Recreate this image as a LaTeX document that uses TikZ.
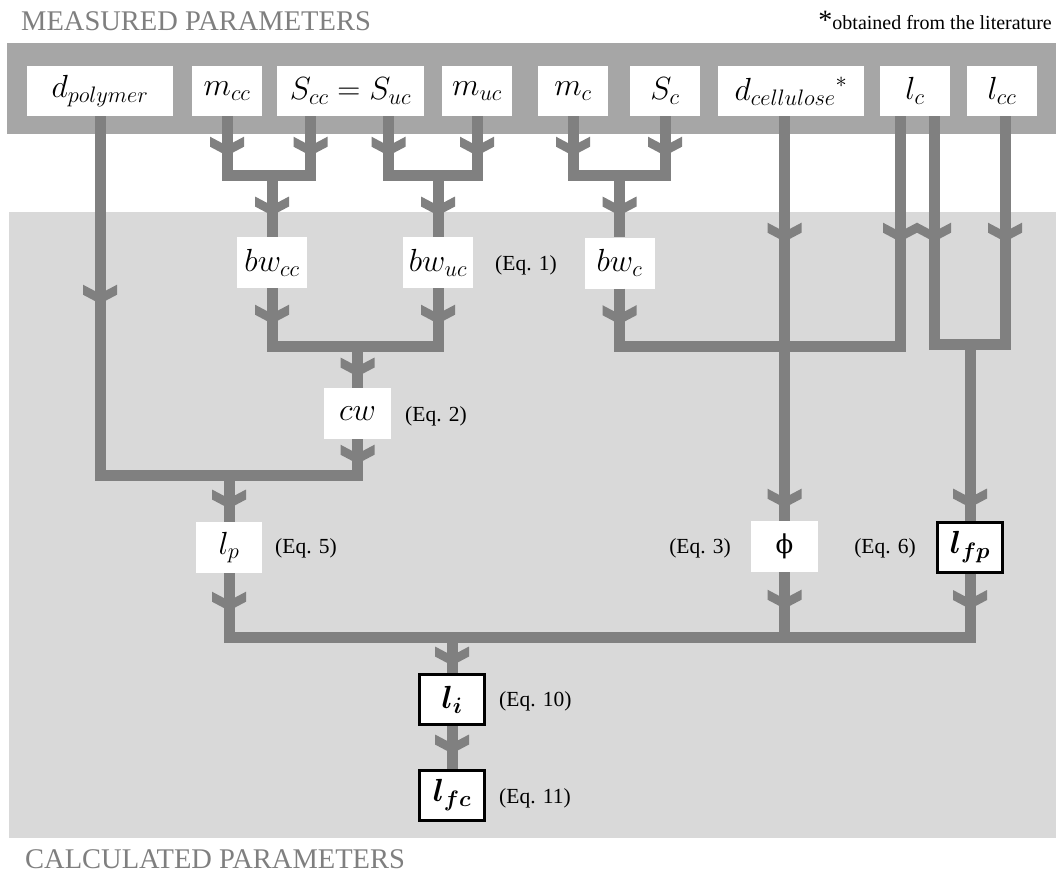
\RequirePackage{fix-cm}
\documentclass[tikz,border=0pt]{standalone}
\usepackage{amsmath}
\usepackage{fontspec}
\setmainfont{Liberation Serif}
\newfontfamily\phifont{DejaVu Serif}
\usepackage{tikz}
\usetikzlibrary{decorations.markings}
\definecolor{flowgray}{HTML}{808080}
\definecolor{bandgray}{HTML}{A6A6A6}
\definecolor{areagray}{HTML}{D9D9D9}
\definecolor{headgray}{HTML}{7F7F7F}
\tikzstyle{param}=[fill=white,inner sep=0pt,minimum width=70pt,minimum height=50pt,font=\fontsize{32}{38}\selectfont]
\tikzstyle{result}=[param,draw=black,line width=3pt,minimum width=65pt,minimum height=50pt]
\tikzstyle{eqlabel}=[inner sep=0pt,font=\fontsize{21.5}{25}\selectfont]
\tikzstyle{header}=[inner sep=0pt,text=headgray,font=\fontsize{28.5}{34}\selectfont]
\tikzstyle{flow}=[draw=flowgray,line width=11pt]
\tikzset{chev/.style={postaction={decorate,decoration={markings,mark=at position #1 with {\fill[flowgray] (-9.5,-17) -- (-0.5,0) -- (-9.5,17) -- (0.5,17) -- (9.5,0) -- (0.5,-17) -- cycle;}}}}}

\begin{document}
\begin{tikzpicture}[x=1pt,y=-1pt]
	\useasboundingbox (0,0) rectangle (1056,873);
	\fill[areagray] (9,212) rectangle (1056,838);
	\fill[bandgray] (7,43) rectangle (1056,134);

	\node [header, anchor=base west] (meas) at (21,30) {MEASURED PARAMETERS};
	\node [anchor=base east, inner sep=0pt] (lit) at (1052,29) {{\fontsize{28}{28}\selectfont *}{\fontsize{20}{24}\selectfont obtained from the literature}};
	\node [header, anchor=base west] (calc) at (25,868) {CALCULATED PARAMETERS};

	% measured
	\node [param, minimum width=146pt] (dpol) at (100,91) {$d_{polymer}$};
	\node [param] (mcc) at (227,91) {$m_{cc}$};
	\node [param, minimum width=147pt] (scc) at (350.5,91) {$S_{cc}=S_{uc}$};
	\node [param] (muc) at (477,91) {$m_{uc}$};
	\node [param] (mc) at (573,91) {$m_{c}$};
	\node [param] (sc) at (665,91) {$S_{c}$};
	\node [param, minimum width=146pt] (dcel) at (791,91) {${d_{cellulose}}^{*}$};
	\node [param] (lc) at (915,91) {$l_{c}$};
	\node [param] (lcc) at (1002,91) {$l_{cc}$};

	% calculated
	\node [param, minimum height=51pt] (bwcc) at (272,262.5) {$bw_{cc}$};
	\node [param, minimum height=51pt] (bwuc) at (438,262.5) {$bw_{uc}$};
	\node [param, minimum height=51pt] (bwc) at (619.5,263) {$bw_{c}$};
	\node [param, minimum width=67pt, minimum height=51pt] (cw) at (357.5,413.5) {$cw$};
	\node [param, minimum width=66pt, minimum height=51pt] (lp) at (229,547.5) {$l_{p}$};
	\node [param, minimum width=67pt, minimum height=51pt, font={\fontsize{26}{30}\phifont}] (phi) at (784.5,546.5) {ϕ};
	\node [result] (lfp) at (970,547) {$\boldsymbol{l_{fp}}$};
	\node [result] (li) at (452,699.5) {$\boldsymbol{l_{i}}$};
	\node [result] (lfc) at (452,795) {$\boldsymbol{l_{fc}}$};

	\node [eqlabel, anchor=west] (eq1) at (495,265) {(Eq. 1)};
	\node [eqlabel, anchor=west] (eq2) at (405,416) {(Eq. 2)};
	\node [eqlabel, anchor=west] (eq5) at (275,548) {(Eq. 5)};
	\node [eqlabel, anchor=east] (eq3) at (731,548) {(Eq. 3)};
	\node [eqlabel, anchor=east] (eq6) at (916,548) {(Eq. 6)};
	\node [eqlabel, anchor=west] (eq10) at (499,701) {(Eq. 10)};
	\node [eqlabel, anchor=west] (eq11) at (499,798) {(Eq. 11)};

	\coordinate (jcc) at (272,175);
	\coordinate (juc) at (438,175);
	\coordinate (jc) at (619.5,175);
	\coordinate (jw) at (357.5,346);
	\coordinate (jphi) at (784.5,346);
	\coordinate (jfp) at (970,344);
	\coordinate (jp) at (229,475);
	\coordinate (ji) at (452,637);

	\draw[flow, chev=30pt] (mcc.south) |- (jcc);
	\draw[flow, chev=30pt] ([xshift=-40pt]scc.south) |- (jcc);
	\draw[flow, chev=31pt] (jcc) -- (bwcc.north);
	\draw[flow, chev=30pt] ([xshift=38pt]scc.south) |- (juc);
	\draw[flow, chev=30pt] (muc.south) |- (juc);
	\draw[flow, chev=31pt] (juc) -- (bwuc.north);
	\draw[flow, chev=30pt] (mc.south) |- (jc);
	\draw[flow, chev=30pt] (sc.south) |- (jc);
	\draw[flow, chev=31pt] (jc) -- (bwc.north);

	\draw[flow, chev=26pt] (bwcc.south) |- (jw);
	\draw[flow, chev=26pt] (bwuc.south) |- (jw);
	\draw[flow, chev=21pt] (jw) -- (cw.north);

	\draw[flow, chev=178pt] (dpol.south) |- (jp);
	\draw[flow, chev=15pt] (cw.south) |- (jp);
	\draw[flow, chev=24pt] (jp) -- (lp.north);

	\draw[flow, chev=26pt] (bwc.south) |- (jphi);
	\draw[flow, chev=116pt] ([xshift=-15pt]lc.south) |- (jphi);
	\draw[flow, chev=116pt, chev=382pt] (dcel.south -| phi) -- (phi.north);

	\draw[flow, chev=116pt] ([xshift=19pt]lc.south) |- (jfp);
	\draw[flow, chev=116pt] ([xshift=3pt]lcc.south) |- (jfp);
	\draw[flow, chev=154pt] (jfp) -- (lfp.north);

	\draw[flow, chev=28pt] (lp.south) |- (ji);
	\draw[flow, chev=27pt] (phi.south) |- (ji);
	\draw[flow, chev=26pt] (lfp.south) |- (ji);
	\draw[flow, chev=19pt] (ji) -- (li.north);
	\draw[flow, chev=18pt] (li.south) -- (lfc.north);
\end{tikzpicture}
\end{document}
